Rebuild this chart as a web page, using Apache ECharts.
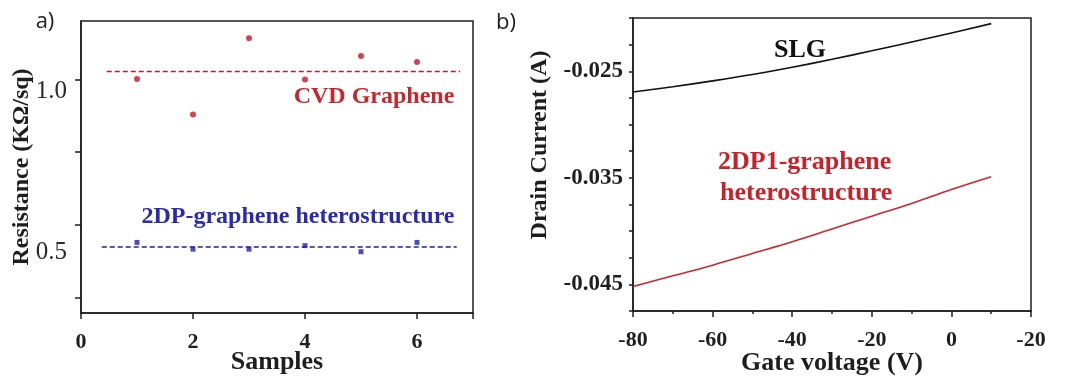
<!DOCTYPE html>
<html>
<head>
<meta charset="utf-8">
<script src="https://cdn.jsdelivr.net/npm/echarts@6/dist/echarts.min.js"></script>
<style>html,body{margin:0;padding:0;background:#fff}#c{width:1068px;height:389px}</style>
</head>
<body>
<div id="c"></div>
<script>
// ---- Panel a) data ----
const samples = [1, 2, 3, 4, 5, 6];
const cvdResistance = [1.039, 0.929, 1.166, 1.038, 1.111, 1.092];
const hetResistance = [0.530, 0.509, 0.509, 0.520, 0.501, 0.530];
const cvdMean = 1.063;
const cvdMeanSpan = [0.46, 6.77];
const hetMean = 0.516;
const hetMeanSpan = [0.37, 6.71];
const sampleTickLabels = [0, 2, 4, 6];
const resistanceLabelValues = [0.5, 1.0];
const resistanceTickValues = [1.038, 0.812, 0.584, 0.357];

// ---- Panel b) data ----
const gateVoltage = [-80, -70, -60, -50, -40, -30, -20, -10, 0, 10];
const slgCurrent = [-0.02695, -0.02645, -0.02590, -0.02530, -0.02462, -0.02388, -0.02308, -0.02225, -0.02140, -0.02053];
const hetCurrent = [-0.0452, -0.0442, -0.0432, -0.0421, -0.0410, -0.0398, -0.0386, -0.0374, -0.0361, -0.0349];
const gateTickValues = [-80, -60, -40, -20, 0, 20];
const gateTickLabels = ["-80", "-60", "-40", "-20", "0", "-20"];
const currentLabelValues = [-0.045, -0.035, -0.025];
const currentTickLabels = ["-0.045", "-0.035", "-0.025"];

const SERIF = "'Liberation Serif', 'DejaVu Serif', serif";
const INK = '#1e1e1e';
const RED = '#cc1422';
const BLUE = '#1f1fb0';
const CURVE_RED = '#c8282e';

const axisLineStyle = { color: INK, width: 1.5 };

const chart = echarts.init(document.getElementById('c'), null, { renderer: 'canvas' });

chart.setOption({
  animation: false,
  backgroundColor: '#fff',
  grid: [
    { left: 81, top: 21, width: 392, height: 292, show: true, borderColor: INK, borderWidth: 1.5, backgroundColor: 'transparent' },
    { left: 633, top: 18, width: 398, height: 293, show: true, borderColor: INK, borderWidth: 1.5, backgroundColor: 'transparent' }
  ],
  xAxis: [
    {
      type: 'value', gridIndex: 0, min: 0, max: 7, interval: 2,
      axisLine: { show: true, onZero: false, lineStyle: axisLineStyle },
      axisTick: { show: true, inside: false, length: 6, lineStyle: { color: INK, width: 1.5 } },
      axisLabel: {
        customValues: sampleTickLabels,
        formatter: v => String(v),
        fontFamily: SERIF, fontWeight: 'bold', fontSize: 22, color: INK, margin: 18
      },
      splitLine: { show: false },
      name: 'Samples', nameLocation: 'middle', nameGap: 36, nameMoveOverlap: false,
      nameTextStyle: { fontFamily: SERIF, fontWeight: 'bold', fontSize: 26, color: INK }
    },
    {
      type: 'value', gridIndex: 1, min: -80, max: 20, interval: 20,
      axisLine: { show: true, onZero: false, lineStyle: axisLineStyle },
      axisTick: { show: true, inside: false, length: 6, lineStyle: { color: INK, width: 1.5 } },
      minorTick: { show: true, splitNumber: 2, length: 3, lineStyle: { color: INK, width: 1.5 } },
      axisLabel: {
        customValues: gateTickValues,
        formatter: v => gateTickLabels[gateTickValues.indexOf(Math.round(v))],
        fontFamily: SERIF, fontWeight: 'bold', fontSize: 22, color: INK, margin: 18
      },
      splitLine: { show: false }, minorSplitLine: { show: false },
      name: 'Gate voltage (V)', nameLocation: 'middle', nameGap: 39, nameMoveOverlap: false,
      nameTextStyle: { fontFamily: SERIF, fontWeight: 'bold', fontSize: 26, color: INK }
    }
  ],
  yAxis: [
    {
      type: 'value', gridIndex: 0, min: 0.31, max: 1.22,
      axisLine: { show: true, onZero: false, lineStyle: axisLineStyle },
      axisTick: { show: true, inside: false, length: 6, customValues: resistanceTickValues, lineStyle: { color: INK, width: 1.5 } },
      axisLabel: {
        customValues: resistanceLabelValues,
        formatter: v => Number(v).toFixed(1),
        fontFamily: SERIF, fontSize: 25, color: '#2a2a2a', margin: 14
      },
      splitLine: { show: false },
      name: 'Resistance (KΩ/sq)', nameLocation: 'middle', nameGap: 47, nameRotate: 90, nameMoveOverlap: false,
      nameTextStyle: { fontFamily: SERIF, fontWeight: 'bold', fontSize: 24, color: INK }
    },
    {
      type: 'value', gridIndex: 1, min: -0.0475, max: -0.020, interval: 0.0025,
      axisLine: { show: true, onZero: false, lineStyle: axisLineStyle },
      axisTick: { show: true, inside: false, length: 4, lineStyle: { color: INK, width: 1.5 } },
      axisLabel: {
        customValues: currentLabelValues,
        formatter: v => {
          let best = 0, d = Infinity;
          currentLabelValues.forEach((c, i) => { const e = Math.abs(c - v); if (e < d) { d = e; best = i; } });
          return currentTickLabels[best];
        },
        fontFamily: SERIF, fontWeight: 'bold', fontSize: 23, color: INK, margin: 10
      },
      splitLine: { show: false }
    }
  ],
  series: [
    {
      name: 'CVD Graphene', type: 'scatter', xAxisIndex: 0, yAxisIndex: 0,
      data: samples.map((s, i) => [s, cvdResistance[i]]),
      symbol: 'circle', symbolSize: 6, itemStyle: { color: RED }
    },
    {
      name: 'CVD mean', type: 'line', xAxisIndex: 0, yAxisIndex: 0,
      data: cvdMeanSpan.map(x => [x, cvdMean]),
      showSymbol: false, symbol: 'none',
      lineStyle: { color: RED, width: 1.5, type: [5, 3] }
    },
    {
      name: '2DP-graphene heterostructure', type: 'scatter', xAxisIndex: 0, yAxisIndex: 0,
      data: samples.map((s, i) => [s, hetResistance[i]]),
      symbol: 'rect', symbolSize: 5, itemStyle: { color: BLUE }
    },
    {
      name: 'Heterostructure mean', type: 'line', xAxisIndex: 0, yAxisIndex: 0,
      data: hetMeanSpan.map(x => [x, hetMean]),
      showSymbol: false, symbol: 'none',
      lineStyle: { color: BLUE, width: 1.5, type: [5, 3] }
    },
    {
      name: 'SLG', type: 'line', xAxisIndex: 1, yAxisIndex: 1,
      data: gateVoltage.map((v, i) => [v, slgCurrent[i]]),
      smooth: 0.4, showSymbol: false, symbol: 'none',
      lineStyle: { color: '#111', width: 1.6 }
    },
    {
      name: '2DP1-graphene heterostructure', type: 'line', xAxisIndex: 1, yAxisIndex: 1,
      data: gateVoltage.map((v, i) => [v, hetCurrent[i]]),
      smooth: 0.4, showSymbol: false, symbol: 'none',
      lineStyle: { color: CURVE_RED, width: 1.6 }
    }
  ],
  graphic: [
    { type: 'text', x: 45, y: 22, style: { text: 'a)', fill: INK, font: "22px 'Open Sans', 'Liberation Sans', sans-serif", textAlign: 'center', textVerticalAlign: 'middle' } },
    { type: 'text', x: 506, y: 23, style: { text: 'b)', fill: INK, font: "22px 'Open Sans', 'Liberation Sans', sans-serif", textAlign: 'center', textVerticalAlign: 'middle' } },
    { type: 'text', x: 374, y: 97, style: { text: 'CVD Graphene', fill: '#c9252c', font: "bold 24px " + SERIF, textAlign: 'center', textVerticalAlign: 'middle' } },
    { type: 'text', x: 298, y: 217, style: { text: '2DP-graphene heterostructure', fill: '#2a2ab0', font: "bold 24px " + SERIF, textAlign: 'center', textVerticalAlign: 'middle' } },
    { type: 'text', x: 800, y: 50, style: { text: 'SLG', fill: '#111', font: "bold 26px " + SERIF, textAlign: 'center', textVerticalAlign: 'middle' } },
    { type: 'text', x: 718, y: 162, style: { text: '2DP1-graphene', fill: '#cc1f26', font: "bold 26px " + SERIF, textAlign: 'left', textVerticalAlign: 'middle' } },
    { type: 'text', x: 720, y: 193, style: { text: 'heterostructure', fill: '#cc1f26', font: "bold 26px " + SERIF, textAlign: 'left', textVerticalAlign: 'middle' } },
    { type: 'text', x: 540, y: 145, rotation: Math.PI / 2, style: { text: 'Drain Current (A)', fill: INK, font: "bold 24px " + SERIF, textAlign: 'center', textVerticalAlign: 'middle' } }
  ]
});
</script>
</body>
</html>
